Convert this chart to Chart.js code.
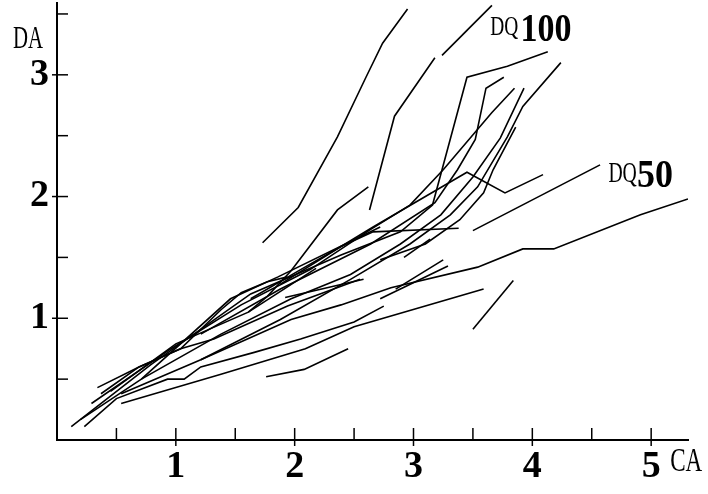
<!DOCTYPE html>
<html>
<head>
<meta charset="utf-8">
<script src="https://cdn.jsdelivr.net/npm/chart.js@4.4.0/dist/chart.umd.min.js"></script>
<style>
  html, body { margin: 0; padding: 0; background: #fff; }
  #wrap { width: 708px; height: 494px; position: relative; }
</style>
</head>
<body>
<div id="wrap"><canvas id="chart"></canvas></div>
<script>
// axis ticks: marks every half unit, labels only on whole numbers
const xTickValues = [0.5, 1, 1.5, 2, 2.5, 3, 3.5, 4, 4.5, 5]
const yTickValues = [0.5, 1, 1.5, 2, 2.5, 3, 3.5]
const xTickLabels = [1, 2, 3, 4, 5]
const yTickLabels = [1, 2, 3]

// each curve is a list of [CA, DA] points
const curveA = [[1.73,1.62],[2.03,1.91],[2.36,2.49],[2.60,2.98],[2.74,3.26],[2.95,3.54]]
const curveB1 = [[2.63,1.89],[2.84,2.66],[3.18,3.14]]
const curveB2 = [[3.24,3.16],[3.66,3.57]]
const curveC = [[0.45,0.40],[1.00,0.79],[1.61,1.05],[1.77,1.18],[1.97,1.39],[2.36,1.89],[2.62,2.08]]
const curveD = [[0.12,0.11],[0.79,0.62],[1.63,1.20],[2.39,1.52],[2.89,1.71],[3.16,1.93],[3.45,2.98],[3.79,3.07],[4.13,3.19]]
const curveE = [[1.21,0.87],[1.88,1.24],[2.64,1.61],[3.18,1.95],[3.37,2.22],[3.52,2.47],[3.61,2.89],[3.76,2.98]]
const curveF = [[0.29,0.30],[0.96,0.75],[1.55,1.11],[2.13,1.40],[2.64,1.73],[2.97,1.93],[3.25,2.22],[3.66,2.69],[3.85,2.89]]
const curveG = [[0.20,0.17],[0.71,0.50],[1.38,0.87],[1.97,1.16],[2.47,1.36],[2.89,1.61],[3.23,1.85],[3.50,2.16],[3.73,2.48],[3.93,2.89]]
const curveH = [[0.54,0.38],[1.21,0.66],[1.88,0.99],[2.47,1.32],[2.97,1.61],[3.31,1.85],[3.54,2.08],[3.79,2.49],[3.92,2.74],[4.24,3.10]]
const curveI = [[2.72,1.48],[3.10,1.61],[3.39,1.81],[3.59,2.03],[3.67,2.22],[3.86,2.57]]
const curveJ = [[1.88,1.28],[2.39,1.59],[2.66,1.75],[3.45,2.20],[3.77,2.03],[4.09,2.18]]
const curveK = [[3.50,1.72],[4.57,2.26]]
const curveL = [[1.21,0.66],[1.97,0.99],[2.39,1.11],[2.81,1.25],[3.54,1.42],[3.92,1.57],[4.18,1.57],[4.91,1.85],[5.31,1.98]]
const curveM = [[0.54,0.30],[1.38,0.54],[2.09,0.75],[2.50,0.93],[3.59,1.24]]
const curveN = [[3.50,0.91],[3.84,1.31]]
const curveO = [[1.76,0.52],[2.08,0.58],[2.45,0.75]]
const curveP1 = [[2.85,1.24],[3.25,1.48]]
const curveP2 = [[2.72,1.16],[3.29,1.43]]
const curveQ = [[1.63,1.16],[2.05,1.40],[2.39,1.59],[2.66,1.71],[3.38,1.74]]
const curveR = [[1.61,1.05],[2.18,1.41]]
const curveS = [[1.92,1.17],[2.58,1.32]]
const curveT = [[0.71,0.50],[1.46,1.16],[1.86,1.34],[2.72,1.75]]
const curveU = [[0.23,0.11],[0.50,0.34],[0.93,0.50],[1.07,0.50],[1.21,0.60],[1.66,0.72],[2.05,0.83],[2.50,0.97],[2.75,1.10]]
const curveV = [[0.37,0.38],[0.69,0.60],[1.04,0.75],[1.32,0.83],[1.94,1.10],[2.55,1.32]]
const curveW = [[0.34,0.43],[0.69,0.60],[1.04,0.75],[1.38,1.07],[1.55,1.21],[1.77,1.30],[1.94,1.34]]
const curveX = [[2.92,1.50],[3.14,1.65]]

const curves = [curveA, curveB1, curveB2, curveC, curveD, curveE, curveF, curveG, curveH,
  curveI, curveJ, curveK, curveL, curveM, curveN, curveO, curveP1, curveP2, curveQ,
  curveR, curveS, curveT, curveU, curveV, curveW, curveX]

// draws short tick marks pointing into the plot, like the printed figure
const innerTicks = {
  id: 'innerTicks',
  afterDraw(chart) {
    const {ctx, chartArea, scales: {x, y}} = chart
    ctx.save()
    ctx.strokeStyle = '#000'
    ctx.lineWidth = 1.5
    xTickValues.forEach(v => {
      const px = x.getPixelForValue(v)
      ctx.beginPath()
      ctx.moveTo(px, chartArea.bottom - 12)
      ctx.lineTo(px, chartArea.bottom + (Number.isInteger(v) ? 6 : 0))
      ctx.stroke()
    })
    yTickValues.forEach(v => {
      const py = y.getPixelForValue(v)
      ctx.beginPath()
      ctx.moveTo(chartArea.left - (Number.isInteger(v) ? 5 : 0), py)
      ctx.lineTo(chartArea.left + 11, py)
      ctx.stroke()
    })
    ctx.restore()
  }
}

function narrowText(ctx, text, px, py, font, sx) {
  ctx.save()
  ctx.font = font
  ctx.translate(px, py)
  ctx.scale(sx, 1)
  ctx.fillText(text, 0, 0)
  ctx.restore()
}

// axis names and the two curve-family labels
const captions = {
  id: 'captions',
  afterDraw(chart) {
    const {ctx, chartArea, scales: {x, y}} = chart
    ctx.save()
    ctx.fillStyle = '#000'
    ctx.textBaseline = 'alphabetic'
    narrowText(ctx, 'DA', chartArea.left - 44, y.getPixelForValue(3.22), '32px "Liberation Serif"', 0.65)
    narrowText(ctx, 'CA', x.getPixelForValue(5.16), chartArea.bottom + 31, '34px "Liberation Serif"', 0.68)
    narrowText(ctx, 'DQ', x.getPixelForValue(3.645), y.getPixelForValue(3.33), '27px "Liberation Serif"', 0.72)
    narrowText(ctx, '100', x.getPixelForValue(3.90), y.getPixelForValue(3.28), 'bold 40px "Liberation Serif"', 0.85)
    narrowText(ctx, 'DQ', x.getPixelForValue(4.64), y.getPixelForValue(2.12), '29px "Liberation Serif"', 0.68)
    narrowText(ctx, '50', x.getPixelForValue(4.88), y.getPixelForValue(2.08), 'bold 40px "Liberation Serif"', 0.9)
    ctx.restore()
  }
}

new Chart(document.getElementById('chart'), {
  type: 'scatter',
  data: {
    datasets: curves.map(c => ({
      data: c.map(([cx, cy]) => ({x: cx, y: cy})),
      showLine: true,
      borderColor: '#000',
      borderWidth: 1.6,
      pointRadius: 0,
      fill: false,
      tension: 0
    }))
  },
  options: {
    responsive: true,
    maintainAspectRatio: false,
    animation: false,
    layout: {padding: {top: 3, right: 20, left: 0, bottom: 0}},
    plugins: {legend: {display: false}, tooltip: {enabled: false}},
    scales: {
      x: {
        type: 'linear',
        min: 0,
        max: 5.31,
        afterBuildTicks: s => { s.ticks = xTickLabels.map(v => ({value: v})) },
        afterFit: s => { s.height = 54; s.paddingLeft = 0; s.paddingRight = 0 },
        grid: {display: false, drawTicks: false},
        border: {display: true, color: '#000', width: 2},
        ticks: {
          autoSkip: false,
          maxRotation: 0,
          padding: 4,
          color: '#000',
          font: {family: 'Liberation Serif', size: 38, weight: 'bold'}
        }
      },
      y: {
        type: 'linear',
        min: 0,
        max: 3.59,
        afterBuildTicks: s => { s.ticks = yTickLabels.map(v => ({value: v})) },
        afterFit: s => { s.width = 57; s.paddingTop = 0; s.paddingBottom = 0 },
        grid: {display: false, drawTicks: false},
        border: {display: true, color: '#000', width: 2},
        ticks: {
          autoSkip: false,
          padding: 8,
          color: '#000',
          font: {family: 'Liberation Serif', size: 38, weight: 'bold'}
        }
      }
    }
  },
  plugins: [innerTicks, captions]
})
</script>
</body>
</html>
